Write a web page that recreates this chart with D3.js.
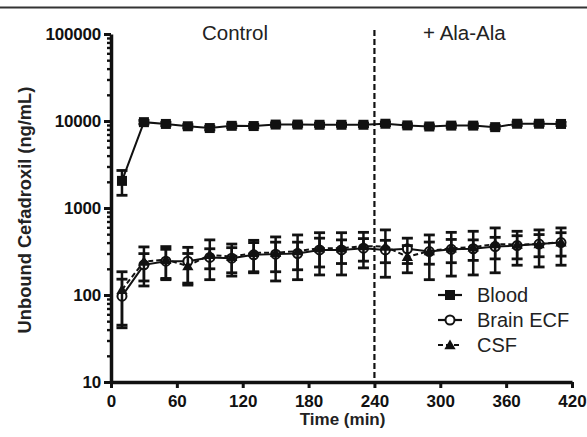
<!DOCTYPE html>
<html><head><meta charset="utf-8">
<script src="https://cdn.jsdelivr.net/npm/d3@7"></script>
<style>
body{margin:0;background:#fff;}
text{font-family:"Liberation Sans",Arial,Helvetica,sans-serif;}
</style></head>
<body><svg id="c" width="587" height="437"></svg>
<script>
// ---- data ----
const times = [10,30,50,70,90,110,130,150,170,190,210,230,250,270,290,310,330,350,370,390,410];
const blood = [2050,9700,9250,8700,8300,8800,8750,9100,9100,9050,9050,9050,9300,8900,8650,8850,8850,8500,9300,9300,9250];
const bloodSd = [650,450,420,380,400,430,390,410,440,400,380,420,450,400,390,410,430,380,440,420,400];
const ecf = [97,222,245,245,270,265,290,295,300,330,330,345,330,340,316,335,340,360,370,385,400];
const ecfSd = [55,77,90,108,70,85,110,110,105,120,100,100,95,110,90,100,90,100,110,110,120];
const csf = [115,242,255,215,290,275,305,305,320,345,345,365,360,275,320,345,355,385,380,385,405];
const csfSd = [70,115,105,85,140,110,120,160,170,175,175,160,200,95,170,180,185,205,160,175,185];
const xTicks = [0,60,120,180,240,300,360,420];
const yTicks = [10,100,1000,10000,100000];
const phaseLabels = ["Control","+ Ala-Ala"];
const phaseX = [113, 322];
const breakTime = 240;
const legendNames = ["Blood","Brain ECF","CSF"];

// ---- chart ----
const svg = d3.select("#c");
const x = d3.scaleLinear().domain([0,420]).range([111,572]);
const y = d3.scaleLog().domain([10,100000]).range([382,34]);
const ink = "#111";

// top frame line
svg.append("line").attr("x1",0).attr("x2",587).attr("y1",7.5).attr("y2",7.5)
  .attr("stroke","#333").attr("stroke-width",2);

// vertical dashed separator
svg.append("line").attr("x1",x(breakTime)).attr("x2",x(breakTime))
  .attr("y1",30).attr("y2",382).attr("stroke",ink).attr("stroke-width",2.2)
  .attr("stroke-dasharray","6,3");

// phase labels
svg.selectAll(".phase").data(phaseLabels).join("text")
  .attr("x",(d,i)=>x(phaseX[i])).attr("y",40).attr("text-anchor","middle")
  .attr("font-size",20.5).attr("fill","#222").text(d=>d);

// y axis minor ticks
const minor = y.ticks(40).filter(v=>!yTicks.includes(v));
const yMinor = svg.append("g").attr("transform","translate(111,0)")
  .call(d3.axisLeft(y).tickValues(minor).tickSize(4).tickFormat("").tickSizeOuter(0));
yMinor.select(".domain").remove();
yMinor.selectAll("line").attr("stroke",ink).attr("stroke-width",2.4);

// y axis
const yAx = svg.append("g").attr("transform","translate(111,0)")
  .call(d3.axisLeft(y).tickValues(yTicks).tickFormat(d3.format("d")).tickSize(7).tickPadding(3).tickSizeOuter(0));
yAx.select(".domain").attr("stroke",ink).attr("stroke-width",3.5);
yAx.selectAll("line").attr("stroke",ink).attr("stroke-width",3);
yAx.selectAll("text").attr("font-size",17).attr("font-weight","bold").attr("fill","#111")
  .attr("font-family","'Liberation Sans',Arial,sans-serif").attr("letter-spacing",-0.2);

// x axis
const xAx = svg.append("g").attr("transform","translate(0,382)")
  .call(d3.axisBottom(x).tickValues(xTicks).tickSize(6).tickPadding(7).tickSizeOuter(0));
xAx.select(".domain").attr("stroke",ink).attr("stroke-width",3.5);
xAx.selectAll("line").attr("stroke",ink).attr("stroke-width",3);
xAx.selectAll("text").attr("font-size",17).attr("font-weight","bold").attr("fill","#111")
  .attr("font-family","'Liberation Sans',Arial,sans-serif");

// axis titles
svg.append("text").attr("x",x(211)).attr("y",425).attr("text-anchor","middle")
  .attr("font-size",17).attr("font-weight","bold").attr("fill","#222").text("Time (min)");
svg.append("text").attr("transform","translate(31,210) rotate(-90)").attr("text-anchor","middle")
  .attr("font-size",18.3).attr("font-weight","bold").attr("fill","#222").text("Unbound Cefadroxil (ng/mL)");

// series
const series = [
  {name:legendNames[0], vals:blood, sd:bloodSd, shape:"square", dash:null},
  {name:legendNames[1], vals:ecf, sd:ecfSd, shape:"circle", dash:null},
  {name:legendNames[2], vals:csf, sd:csfSd, shape:"triangle", dash:"5,3"}
];

function drawMarker(g, shape, cx, cy){
  if(shape==="square"){
    g.append("rect").attr("x",cx-5).attr("y",cy-5).attr("width",10).attr("height",10).attr("fill",ink);
  } else if(shape==="circle"){
    g.append("circle").attr("cx",cx).attr("cy",cy).attr("r",4.5).attr("fill","#fff")
      .attr("stroke",ink).attr("stroke-width",2);
  } else {
    g.append("path").attr("d",d3.symbol(d3.symbolTriangle,55)()).attr("transform",`translate(${cx},${cy+1})`).attr("fill",ink);
  }
}

series.forEach(s=>{
  const g = svg.append("g");
  const pts = times.map((t,i)=>({t, v:s.vals[i], sd:s.sd[i]}));
  // error bars
  pts.forEach(p=>{
    const hi = y(p.v + p.sd), lo = y(Math.max(p.v - p.sd, 11));
    const cx = x(p.t);
    g.append("line").attr("x1",cx).attr("x2",cx).attr("y1",hi).attr("y2",lo).attr("stroke",ink).attr("stroke-width",2.5);
    [hi,lo].forEach(yy=>g.append("line").attr("x1",cx-5.5).attr("x2",cx+5.5).attr("y1",yy).attr("y2",yy)
      .attr("stroke",ink).attr("stroke-width",2.8));
  });
  // line
  g.append("path").datum(pts).attr("fill","none").attr("stroke",ink).attr("stroke-width",2)
    .attr("stroke-dasharray",s.dash)
    .attr("d",d3.line().x(p=>x(p.t)).y(p=>y(p.v)));
  pts.forEach(p=>drawMarker(g, s.shape, x(p.t), y(p.v)));
});

// legend
const legY = [295,320,345];
series.forEach((s,i)=>{
  const g = svg.append("g");
  g.append("line").attr("x1",438).attr("x2",462).attr("y1",legY[i]).attr("y2",legY[i])
    .attr("stroke",ink).attr("stroke-width",2.2).attr("stroke-dasharray",s.dash);
  drawMarker(g, s.shape, 450, legY[i]);
  g.append("text").attr("x",477).attr("y",legY[i]+7).attr("font-size",20).attr("fill","#222").text(s.name);
});
</script></body></html>
